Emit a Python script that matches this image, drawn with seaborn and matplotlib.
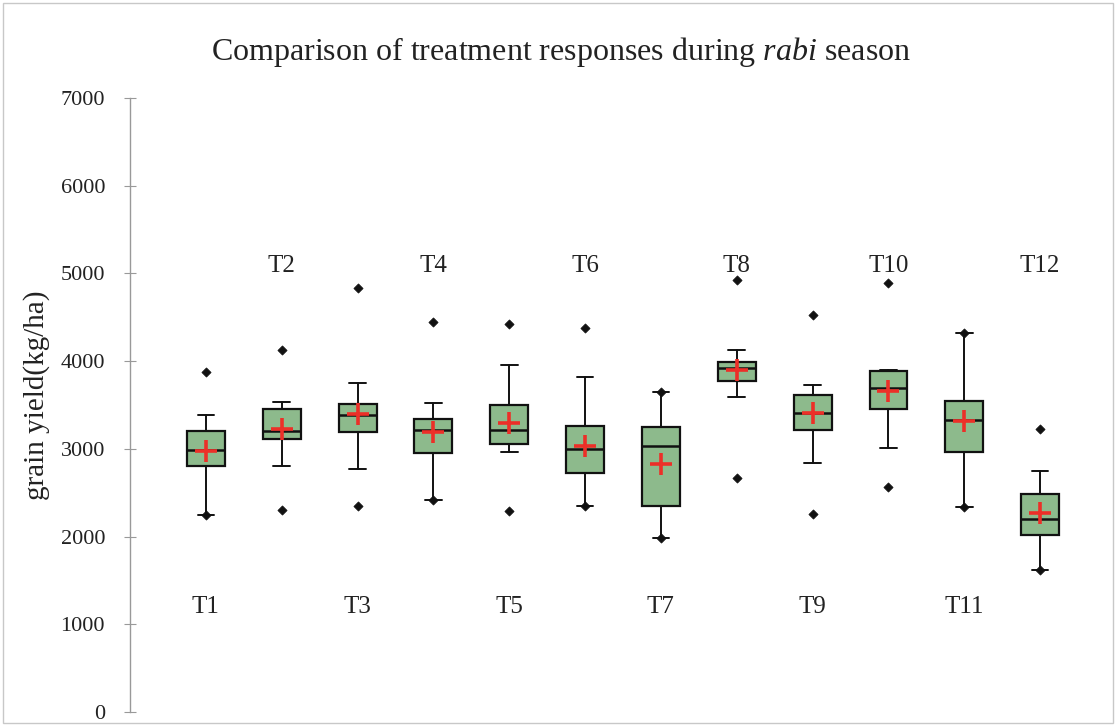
import numpy as np
import pandas as pd
import matplotlib
matplotlib.use("Agg")
import matplotlib.pyplot as plt
import matplotlib.patches as mpatches
import seaborn as sns

# ---- data ----
treatments = ["T1", "T2", "T3", "T4", "T5", "T6", "T7", "T8", "T9", "T10", "T11", "T12"]
minimum   = [2246, 2299, 2345, 2417, 2288, 2352, 1989, 2670, 2254, 2561, 2341, 1617]
whisk_lo  = [2246, 2810, 2776, 2417, 2962, 2352, 1989, 3591, 2841, 3011, 2341, 1617]
q1        = [2810, 3110, 3189, 2958, 3057, 2723, 2348, 3778, 3220, 3458, 2966, 2016]
median    = [2989, 3201, 3390, 3212, 3220, 3000, 3038, 3920, 3409, 3693, 3326, 2197]
q3        = [3208, 3455, 3515, 3341, 3496, 3265, 3246, 3989, 3610, 3883, 3542, 2481]
whisk_hi  = [3383, 3534, 3746, 3519, 3958, 3822, 3648, 4125, 3731, 3894, 4318, 2746]
maximum   = [3875, 4125, 4837, 4443, 4420, 4383, 3648, 4928, 4530, 4886, 4318, 3227]
mean      = [2980, 3231, 3398, 3189, 3292, 3027, 2822, 3902, 3409, 3655, 3314, 2273]
label_y_even = 5090
label_y_odd = 1200
yticks = [0, 1000, 2000, 3000, 4000, 5000, 6000, 7000]

sns.set_theme(style="white")
plt.rcParams["font.family"] = ["Liberation Serif", "DejaVu Serif"]
plt.rcParams["mathtext.fontset"] = "custom"
plt.rcParams["mathtext.rm"] = "Liberation Serif"
plt.rcParams["mathtext.it"] = "Liberation Serif:italic"

W, H = 1117, 725
Y0, Y7 = 712, 98
fig = plt.figure(figsize=(W / 100, H / 100), dpi=100)
ax = fig.add_axes([130 / W, (H - Y0) / H, (1116 - 130) / W, (Y0 - Y7) / H])

pos = np.arange(len(treatments))
stats = []
for i, t in enumerate(treatments):
    stats.append(dict(label=t, whislo=whisk_lo[i], q1=q1[i], med=median[i],
                      q3=q3[i], whishi=whisk_hi[i], fliers=[]))

ax.bxp(stats, positions=pos, widths=0.5, patch_artist=True, showfliers=False,
       boxprops=dict(facecolor="#8dba8c", edgecolor="#111111", linewidth=1.6),
       medianprops=dict(color="#111111", linewidth=1.8),
       whiskerprops=dict(color="#111111", linewidth=1.4),
       capprops=dict(color="#111111", linewidth=1.4),
       capwidths=0.22)

df_ext = pd.DataFrame({"x": np.concatenate([pos, pos]),
                       "y": np.concatenate([minimum, maximum])})
sns.scatterplot(data=df_ext, x="x", y="y", marker="D", s=22, color="#111111",
                edgecolor="#111111", linewidth=0.5, ax=ax, zorder=5)

df_mean = pd.DataFrame({"x": pos, "y": mean})
sns.scatterplot(data=df_mean, x="x", y="y", marker="+", s=230, color="#ec2f28",
                linewidth=2.6, ax=ax, zorder=6)

for i, t in enumerate(treatments):
    yy = label_y_even if (i % 2 == 1) else label_y_odd
    ax.text(pos[i], yy, t, ha="center", va="center", fontsize=18, color="#222222")

ax.set_xlim(-1, 12)
ax.set_ylim(0, 7000)
ax.set_yticks(yticks)
ax.set_xticks([])
ax.set_xlabel("")
ax.set_ylabel("grain yield(kg/ha)", fontsize=21, color="#222222")
ax.yaxis.label.set_va("center")
ax.yaxis.label.set_ha("center")
ax.yaxis.set_label_coords((37 - 130) / 986, (Y0 - 395) / (Y0 - Y7))
ax.tick_params(axis="y", direction="inout", length=8, width=0.8, color="#999999",
               pad=14, labelsize=16, labelcolor="#222222", left=True)
for s in ["top", "right", "bottom"]:
    ax.spines[s].set_visible(False)
ax.spines["left"].set_color("#999999")
ax.spines["left"].set_linewidth(1.0)
ax.grid(False)

fig.text(561 / W, 1 - 52 / H,
         r"Comparison of treatment responses during $\mathit{rabi}$ season",
         ha="center", va="center", fontsize=23, color="#222222")

fig.patches.append(mpatches.Rectangle((3 / W, 2 / H), (1113 - 3) / W, (722 - 2) / H,
                                      transform=fig.transFigure, fill=False,
                                      edgecolor="#c8c8c8", linewidth=1.0))

fig.savefig("out.png", dpi=100)
